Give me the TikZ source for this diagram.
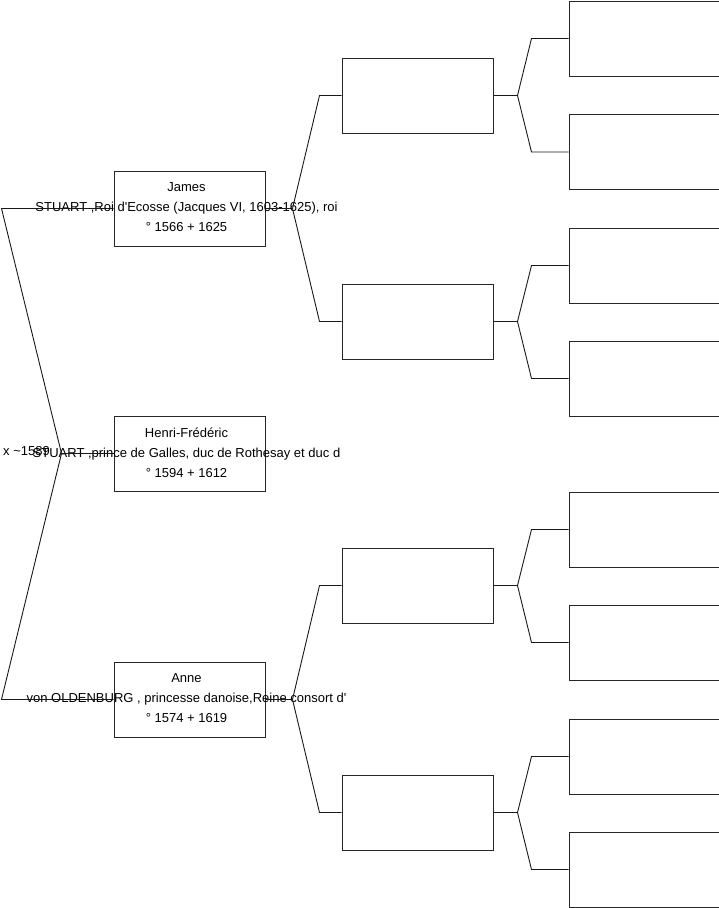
\documentclass[tikz,border=0pt]{standalone}
\usepackage{fontspec}
\setmainfont{Liberation Sans}
\usetikzlibrary{positioning,calc}

\begin{document}
\begin{tikzpicture}[
    x=1pt, y=1pt,
    font=\fontsize{13}{20}\selectfont,
    person/.style={
      rectangle, draw=black!85, line width=1pt,
      minimum width=151pt, minimum height=75pt, inner sep=0pt,
      label={[align=center, xshift=-3pt, yshift=1pt, font=\fontsize{13}{20}\selectfont]center:{#1}}
    },
    anc/.style={
      rectangle, draw=black!85, line width=1pt,
      minimum width=151pt, minimum height=75pt, inner sep=0pt
    },
    link/.style={draw, line width=0.9pt, black!90}
  ]
  \useasboundingbox (0,0) rectangle (719,-908);
  % generation 1
  \node[person={James\\STUART ,Roi d\textquotesingle Ecosse (Jacques VI, 1603-1625), roi\\° 1566 + 1625}] (james) at (189.5,-208.5) {};
  \node[person={Henri-Frédéric\\STUART ,prince de Galles, duc de Rothesay et duc d\\° 1594 + 1612}] (henri) at (189.5,-453.5) {};
  \node[person={Anne\\von OLDENBURG , princesse danoise,Reine consort d\textquotesingle\\° 1574 + 1619}] (anne) at (189.5,-699.5) {};
  % generation 2
  \node[anc, right=76pt of james, yshift=113pt] (jf) {};
  \node[anc, right=76pt of james, yshift=-113pt] (jm) {};
  \node[anc, right=76pt of anne, yshift=114pt] (af) {};
  \node[anc, right=76pt of anne, yshift=-113pt] (am) {};
  % generation 3
  \node[anc, right=75pt of jf, yshift=57pt] (jff) {};
  \node[anc, right=75pt of jf, yshift=-56.5pt] (jfm) {};
  \node[anc, right=75pt of jm, yshift=56pt] (jmf) {};
  \node[anc, right=75pt of jm, yshift=-57pt] (jmm) {};
  \node[anc, right=75pt of af, yshift=56pt] (aff) {};
  \node[anc, right=75pt of af, yshift=-57pt] (afm) {};
  \node[anc, right=75pt of am, yshift=56pt] (amf) {};
  \node[anc, right=75pt of am, yshift=-57pt] (amm) {};
  % couple and child
  \coordinate (wed) at ($(henri.west)+(-52pt,0)$);
  \draw[link] (james.west) -- ++(-112pt,0) -- (wed) -- ($(anne.west)+(-112pt,0)$) -- (anne.west);
  \draw[link] (henri.west) -- (wed);
  \node[anchor=west, inner sep=0pt] (mariage) at (3,-451) {x \textasciitilde1589};
  % forks towards parents
  \draw[link] (james.east) -- ++(27pt,0) coordinate (jj);
  \draw[link] (jf.west) -- ++(-22pt,0) -- (jj) -- ($(jm.west)+(-22pt,0)$) -- (jm.west);
  \draw[link] (anne.east) -- ++(27pt,0) coordinate (aa);
  \draw[link] (af.west) -- ++(-22pt,0) -- (aa) -- ($(am.west)+(-22pt,0)$) -- (am.west);
  \draw[link] (jf.east) -- ++(24pt,0) coordinate (jfj);
  \draw[link] (jff.west) -- ++(-37pt,0) -- (jfj) -- ($(jfm.west)+(-37pt,0)$) -- (jfm.west);
  \draw[link] (jm.east) -- ++(24pt,0) coordinate (jmj);
  \draw[link] (jmf.west) -- ++(-37pt,0) -- (jmj) -- ($(jmm.west)+(-37pt,0)$) -- (jmm.west);
  \draw[link] (af.east) -- ++(24pt,0) coordinate (afj);
  \draw[link] (aff.west) -- ++(-37pt,0) -- (afj) -- ($(afm.west)+(-37pt,0)$) -- (afm.west);
  \draw[link] (am.east) -- ++(24pt,0) coordinate (amj);
  \draw[link] (amf.west) -- ++(-37pt,0) -- (amj) -- ($(amm.west)+(-37pt,0)$) -- (amm.west);
\end{tikzpicture}
\end{document}
